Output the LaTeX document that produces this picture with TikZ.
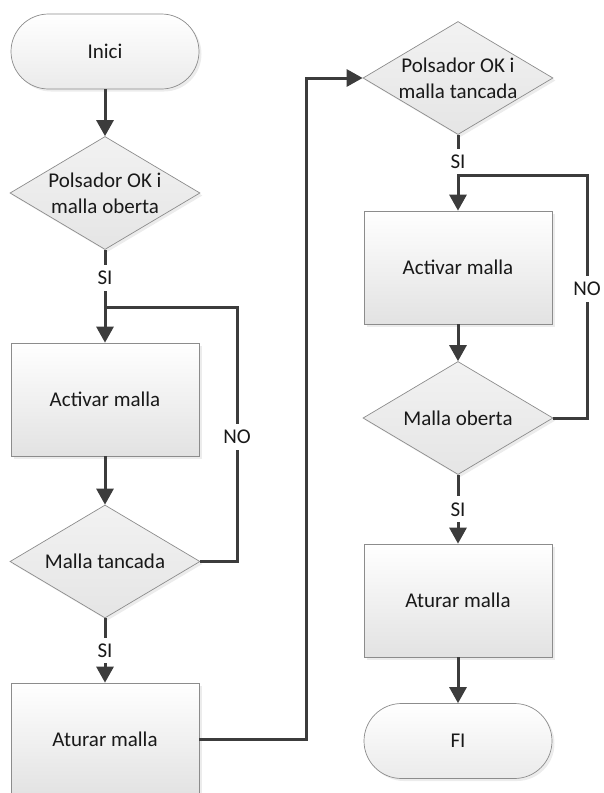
\documentclass[tikz,border=0pt]{standalone}
\usepackage{fontspec}
\setmainfont{Carlito}
\usetikzlibrary{arrows.meta,positioning,shapes.geometric,shadows}
\definecolor{Line}{HTML}{3C3C3C}
\definecolor{Edge}{HTML}{8C8C8C}
\definecolor{Fill}{HTML}{E2E2E2}

\tikzset{
  base/.style={draw=Edge,line width=0.7pt,align=center,inner sep=0pt,
    font=\fontsize{21}{26}\selectfont,text=black!90,
    drop shadow={opacity=0.15,shadow xshift=2.5pt,shadow yshift=-2.5pt}},
  terminal/.style={base,rectangle,rounded corners=37.5pt,
    minimum width=188pt,minimum height=75pt,top color=white,bottom color=Fill!70},
  decision/.style={base,diamond,aspect=1.65,
    minimum width=190pt,minimum height=113pt,top color=Fill!45,bottom color=Fill!90},
  process/.style={base,rectangle,
    minimum width=188pt,minimum height=113pt,top color=white,bottom color=Fill},
  flow/.style={draw=Line,line width=3pt,-{Triangle[length=16pt,width=17pt]}},
  link/.style={draw=Line,line width=3pt},
  tag/.style={fill=white,inner xsep=2pt,inner ysep=6pt,
    font=\fontsize{21}{24}\selectfont,text=black!90}
}

\begin{document}
\begin{tikzpicture}[x=1pt,y=-1pt]
  \useasboundingbox (0,0) rectangle (604,793);

  % first column
  \node[terminal] (inici) at (105,51.5) {Inici};
  \node[decision] (polsa) at (105,193) {Polsador OK i\\malla oberta};
  \node[process] (activa) at (105,399.5) {Activar malla};
  \node[decision] (tanca) at (105,561.5) {Malla tancada};
  \node[process] (atura) at (105,739.5) {Aturar malla};

  % second column
  \node[decision] (polsb) at (458,78) {Polsador OK i\\malla tancada};
  \node[process] (activb) at (458,267.5) {Activar malla};
  \node[decision] (obre) at (458,418) {Malla oberta};
  \node[process] (aturb) at (458,600.5) {Aturar malla};
  \node[terminal] (fi) at (458,741) {FI};

  % loop corners and joints
  \coordinate (jointa) at (105,307);
  \coordinate (loopa) at (237,307);
  \coordinate (pas) at (306,78);
  \coordinate (jointb) at (458,175);
  \coordinate (loopb) at (587,175);

  \draw[flow] (inici) -- (polsa);
  \draw[flow] (polsa) -- node[tag,pos=0.3] {SI} (activa);
  \draw[flow] (activa) -- (tanca);
  \draw[link] (tanca.east) -| node[tag,pos=0.745] {NO} (loopa) -- (jointa);
  \draw[flow] (tanca) -- node[tag] {SI} (atura);
  \draw[flow] (atura.east) -| (pas) -- (polsb.west);

  \draw[flow] (polsb) -- node[tag,pos=0.35] {SI} (activb);
  \draw[flow] (activb) -- (obre);
  \draw[link] (obre.east) -| node[tag,pos=0.765] {NO} (loopb) -- (jointb);
  \draw[flow] (obre) -- node[tag] {SI} (aturb);
  \draw[flow] (aturb) -- (fi);
\end{tikzpicture}
\end{document}
